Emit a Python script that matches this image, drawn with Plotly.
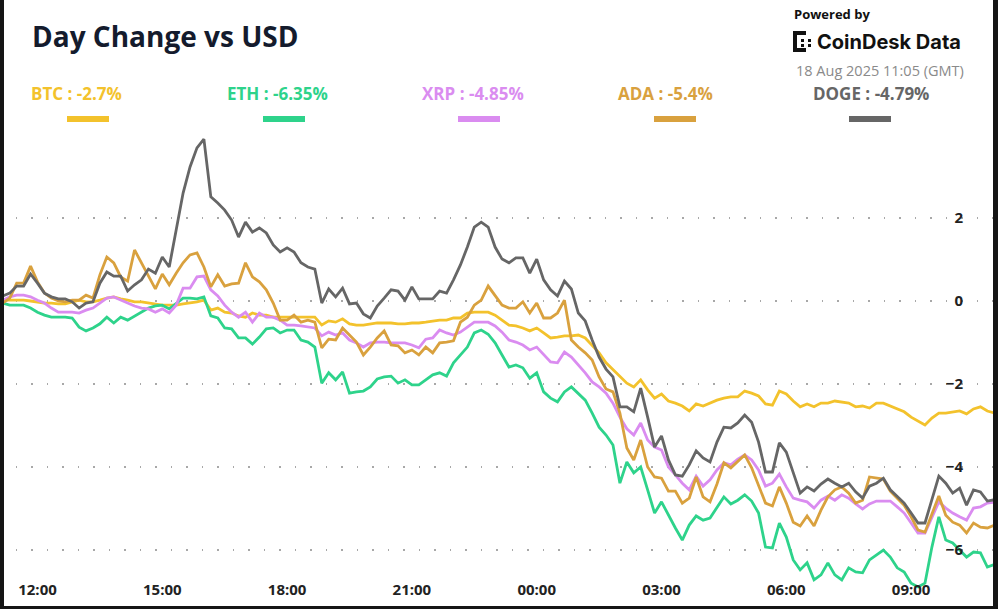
"""
Day change vs USD for five coins, 24h window at 10 minute steps.
"""

import pandas as pd
import plotly.graph_objects as go

# ---- data -----------------------------------------------------------------
times = pd.date_range("2025-08-17 11:00", periods=145, freq="10min")
tick_times = pd.date_range("2025-08-17 12:00", periods=8, freq="3h")
y_ticks = [-6, -4, -2, 0, 2]

symbols = ["BTC", "ETH", "XRP", "ADA", "DOGE"]
day_change = [-2.7, -6.35, -4.85, -5.4, -4.79]
colors = ["#F3C22C", "#2ED38B", "#DA8CF0", "#D9A13E", "#666666"]

btc = [
    0.02, 0.02, 0.02, 0.02, 0.02, 0.00, -0.02, -0.05, -0.05, -0.07,
    -0.07, -0.02, 0.02, -0.02, -0.02, 0.02, 0.07, 0.10, 0.05, 0.02,
    -0.02, -0.02, -0.05, -0.07, -0.10, -0.10, -0.10, -0.07, -0.05, -0.02,
    0.02, -0.22, -0.17, -0.27, -0.29, -0.36, -0.39, -0.29, -0.34, -0.34,
    -0.39, -0.39, -0.39, -0.39, -0.39, -0.39, -0.39, -0.58, -0.48, -0.51,
    -0.43, -0.55, -0.58, -0.58, -0.55, -0.53, -0.53, -0.53, -0.55, -0.55,
    -0.53, -0.53, -0.51, -0.48, -0.46, -0.46, -0.41, -0.41, -0.29, -0.27,
    -0.27, -0.27, -0.34, -0.46, -0.58, -0.60, -0.65, -0.72, -0.65, -0.77,
    -0.89, -0.87, -0.84, -0.84, -0.82, -0.89, -1.06, -1.25, -1.49, -1.66,
    -1.83, -1.98, -2.07, -1.90, -2.14, -2.34, -2.24, -2.41, -2.46, -2.53,
    -2.65, -2.48, -2.53, -2.46, -2.39, -2.34, -2.31, -2.31, -2.17, -2.22,
    -2.29, -2.48, -2.51, -2.17, -2.24, -2.41, -2.55, -2.48, -2.55, -2.46,
    -2.46, -2.41, -2.43, -2.46, -2.55, -2.53, -2.58, -2.46, -2.46, -2.53,
    -2.60, -2.67, -2.80, -2.89, -2.99, -2.82, -2.70, -2.70, -2.67, -2.65,
    -2.72, -2.60, -2.55, -2.65, -2.70,
]

eth = [
    -0.05, -0.05, -0.10, -0.10, -0.10, -0.17, -0.27, -0.34, -0.39, -0.39,
    -0.39, -0.41, -0.63, -0.72, -0.65, -0.55, -0.39, -0.53, -0.39, -0.46,
    -0.36, -0.27, -0.17, -0.12, -0.10, -0.19, -0.05, 0.07, 0.07, 0.05,
    0.10, -0.36, -0.41, -0.65, -0.67, -0.89, -0.89, -1.04, -0.87, -0.67,
    -0.65, -0.77, -0.70, -0.70, -0.94, -0.99, -1.11, -1.98, -1.73, -1.90,
    -1.71, -2.22, -2.19, -2.17, -2.07, -1.88, -1.83, -1.81, -1.98, -1.90,
    -2.02, -2.02, -1.90, -1.78, -1.73, -1.81, -1.49, -1.30, -1.11, -0.77,
    -0.70, -0.80, -1.01, -1.30, -1.59, -1.54, -1.61, -1.86, -1.73, -2.19,
    -2.34, -2.43, -2.19, -2.07, -2.22, -2.39, -2.70, -3.04, -3.23, -3.47,
    -4.39, -3.88, -4.14, -4.00, -4.55, -5.11, -4.84, -5.16, -5.47, -5.76,
    -5.40, -5.18, -5.28, -5.23, -4.96, -4.72, -4.89, -4.80, -4.67, -4.82,
    -5.11, -5.93, -5.95, -5.35, -5.69, -6.24, -6.48, -6.31, -6.72, -6.60,
    -6.31, -6.60, -6.72, -6.43, -6.53, -6.55, -6.24, -6.12, -6.00, -6.17,
    -6.43, -6.53, -6.80, -6.89, -6.80, -5.93, -5.20, -5.76, -5.83, -6.00,
    -6.17, -6.05, -6.07, -6.41, -6.35,
]

xrp = [
    0.00, 0.02, 0.10, 0.14, 0.14, 0.10, 0.02, -0.05, -0.17, -0.27,
    -0.27, -0.27, -0.29, -0.22, -0.17, -0.05, 0.07, 0.10, 0.02, -0.05,
    -0.12, -0.17, -0.19, -0.27, -0.19, -0.29, -0.10, 0.31, 0.31, 0.58,
    0.60, 0.27, 0.12, -0.10, -0.27, -0.39, -0.27, -0.51, -0.29, -0.39,
    -0.39, -0.46, -0.58, -0.58, -0.60, -0.63, -0.65, -0.84, -0.75, -0.82,
    -0.77, -0.94, -1.01, -1.11, -1.01, -0.99, -0.99, -1.01, -1.01, -1.01,
    -1.06, -1.13, -0.92, -0.89, -0.70, -0.77, -0.82, -0.75, -0.63, -0.51,
    -0.51, -0.51, -0.60, -0.75, -0.94, -0.99, -1.06, -1.18, -1.11, -1.30,
    -1.47, -1.49, -1.23, -1.35, -1.54, -1.73, -1.95, -2.07, -2.22, -2.46,
    -2.80, -3.08, -3.23, -2.94, -3.35, -3.52, -3.59, -4.00, -4.19, -4.39,
    -4.55, -4.22, -4.46, -4.31, -4.07, -3.90, -3.95, -3.81, -3.71, -3.83,
    -4.07, -4.46, -4.39, -4.17, -4.48, -4.75, -4.80, -4.84, -4.99, -4.80,
    -4.70, -4.80, -4.67, -4.75, -4.89, -5.01, -4.89, -4.82, -4.82, -4.82,
    -4.96, -5.11, -5.35, -5.59, -5.59, -5.20, -4.84, -4.99, -5.11, -5.20,
    -5.28, -4.99, -4.96, -4.87, -4.85,
]

ada = [
    -0.10, -0.05, 0.07, 0.43, 0.43, 0.84, 0.46, 0.19, 0.07, 0.00,
    -0.02, 0.02, 0.02, 0.14, 0.07, 0.63, 1.06, 0.92, 0.58, 0.48,
    1.23, 0.92, 0.58, 0.29, 0.65, 0.39, 0.67, 0.92, 1.11, 1.16,
    0.82, 0.34, 0.63, 0.36, 0.41, 0.43, 0.92, 0.58, 0.46, 0.27,
    -0.05, -0.46, -0.46, -0.34, -0.51, -0.46, -0.51, -1.13, -0.92, -0.94,
    -0.65, -0.82, -0.99, -1.30, -1.11, -0.89, -0.72, -1.06, -1.08, -1.25,
    -1.18, -1.30, -1.11, -1.25, -1.01, -0.99, -0.96, -0.51, -0.39, -0.10,
    0.02, 0.36, 0.14, -0.10, -0.17, -0.17, -0.02, -0.29, -0.05, -0.41,
    -0.41, -0.29, 0.02, -0.94, -1.11, -1.25, -1.42, -1.83, -2.12, -2.19,
    -2.70, -3.54, -3.83, -3.35, -4.00, -4.24, -4.27, -4.58, -4.58, -4.87,
    -4.75, -4.24, -4.72, -4.84, -4.41, -3.90, -4.02, -3.86, -3.71, -4.02,
    -4.43, -4.87, -4.94, -4.48, -4.87, -5.33, -5.42, -5.18, -5.42, -5.04,
    -4.72, -4.55, -4.48, -4.63, -4.87, -4.80, -4.24, -4.27, -4.29, -4.58,
    -4.75, -4.92, -5.20, -5.52, -5.57, -5.11, -4.70, -5.16, -5.33, -5.40,
    -5.59, -5.35, -5.45, -5.47, -5.40,
]

doge = [
    0.07, 0.12, 0.19, 0.36, 0.36, 0.65, 0.43, 0.19, 0.10, 0.05,
    0.05, -0.02, -0.17, -0.05, -0.02, 0.43, 0.70, 0.60, 0.60, 0.24,
    0.39, 0.51, 0.77, 0.67, 1.06, 0.82, 1.71, 2.60, 3.23, 3.69,
    3.90, 2.51, 2.36, 2.19, 1.95, 1.54, 1.90, 1.66, 1.76, 1.64,
    1.35, 1.18, 1.28, 1.18, 0.92, 0.82, 0.77, -0.05, 0.29, 0.10,
    0.31, -0.07, -0.05, -0.31, -0.41, -0.12, 0.07, 0.27, 0.24, 0.02,
    0.34, 0.05, 0.05, 0.05, 0.24, 0.19, 0.51, 0.87, 1.30, 1.78,
    1.90, 1.78, 1.30, 1.01, 0.92, 1.04, 1.04, 0.67, 1.01, 0.51,
    0.27, 0.12, 0.48, 0.29, -0.29, -0.48, -0.94, -1.35, -1.64, -1.83,
    -2.55, -2.55, -2.67, -2.10, -2.80, -3.52, -3.25, -3.83, -4.19, -4.22,
    -3.95, -3.61, -3.78, -3.88, -3.40, -3.04, -3.06, -2.94, -2.75, -2.92,
    -3.40, -4.12, -4.12, -3.42, -3.64, -4.14, -4.63, -4.48, -4.58, -4.41,
    -4.29, -4.39, -4.48, -4.39, -4.60, -4.75, -4.46, -4.39, -4.27, -4.55,
    -4.70, -4.87, -5.11, -5.35, -5.35, -4.80, -4.22, -4.39, -4.63, -4.51,
    -4.92, -4.55, -4.60, -4.82, -4.79,
]

series = [btc, eth, xrp, ada, doge]

# ---- layout helpers (pixel -> paper) ----------------------------------------
W, H = 998, 609
PLOT_L, PLOT_R, PLOT_T, PLOT_B = 0, 993, 130, 601
FONT = "Open Sans"


def px_x(p):
    return (p - PLOT_L) / (PLOT_R - PLOT_L)


def px_y(p):
    return (PLOT_B - p) / (PLOT_B - PLOT_T)


def add_box(fig, x0, y0, x1, y1, color, layer="below"):
    fig.add_shape(type="rect", xref="paper", yref="paper",
                  x0=px_x(x0), x1=px_x(x1), y0=px_y(y1), y1=px_y(y0),
                  fillcolor=color, line_width=0, layer=layer)


fig = go.Figure()

for name, values, color in zip(symbols, series, colors):
    fig.add_trace(
        go.Scatter(x=times, y=values, name=name, mode="lines",
                   line=dict(color=color, width=2.8))
    )

fig.update_layout(
    width=W,
    height=H,
    margin=dict(l=PLOT_L, r=W - PLOT_R, t=PLOT_T, b=H - PLOT_B),
    paper_bgcolor="white",
    plot_bgcolor="white",
    showlegend=False,
    font=dict(family=FONT, color="#222222"),
)

fig.update_xaxes(
    range=["2025-08-17 11:05:55", "2025-08-18 10:58:07"],
    tickvals=tick_times,
    tickformat="%H:%M",
    ticks="",
    ticklabelposition="inside",
    tickfont=dict(family=FONT, size=15, color="#222222", weight="bold"),
    showgrid=False,
    zeroline=False,
    showline=False,
)

fig.update_yaxes(
    range=[-7.229, 4.1205],
    side="right",
    tickvals=y_ticks,
    ticks="",
    ticklabelposition="inside",
    ticklabelstandoff=27,
    tickfont=dict(family=FONT, size=15, color="#222222", weight="bold"),
    showgrid=True,
    gridcolor="#a8a8a8",
    gridwidth=1.5,
    griddash="1.5px,14px",
    zeroline=False,
    showline=False,
)

# title
fig.add_annotation(
    text="Day Change vs USD", xref="paper", yref="paper",
    x=px_x(30), y=px_y(36), xanchor="left", yanchor="middle", showarrow=False,
    font=dict(family=FONT, size=28, color="#141B2D", weight="bold"),
)

# custom legend: label above a short colour bar
bar_left = [67, 263, 458, 654, 849]
for name, chg, color, left in zip(symbols, day_change, colors, bar_left):
    fig.add_annotation(
        text=f"{name} : {chg}%", xref="paper", yref="paper",
        x=px_x(left - 38), y=px_y(93), xanchor="left", yanchor="middle",
        showarrow=False,
        font=dict(family=FONT, size=17, color=color, weight="bold"),
    )
    add_box(fig, left, 116, left + 42, 122, color)

# source block
fig.add_annotation(
    text="Powered by", xref="paper", yref="paper",
    x=px_x(792), y=px_y(14), xanchor="left", yanchor="middle", showarrow=False,
    font=dict(family=FONT, size=13, color="#111111", weight="bold"),
)
fig.add_annotation(
    text="CoinDesk Data", xref="paper", yref="paper",
    x=px_x(815), y=px_y(42), xanchor="left", yanchor="middle", showarrow=False,
    font=dict(family="Inter", size=20, color="#111111", weight="bold"),
)
fig.add_annotation(
    text="18 Aug 2025 11:05 (GMT)", xref="paper", yref="paper",
    x=px_x(966), y=px_y(70), xanchor="right", yanchor="middle", showarrow=False,
    font=dict(family=FONT, size=14.5, color="#8a8a8a"),
)

# small logo mark
for box in [(793, 31, 797, 52), (797, 31, 806, 35), (797, 48, 806, 52),
            (801, 39, 804, 42), (808, 39, 811, 42),
            (801, 44, 804, 47), (808, 44, 811, 47)]:
    add_box(fig, *box, "#111111")

# dark screenshot frame
for box in [(-3, -3, 4, H + 3), (PLOT_R, -3, W + 3, H + 3),
            (-3, 606, W + 3, H + 3)]:
    add_box(fig, *box, "#151515", layer="above")

fig.write_html(
    "out.html",
    config={"displayModeBar": False},
    post_script="document.body.style.margin = '0';",
)
